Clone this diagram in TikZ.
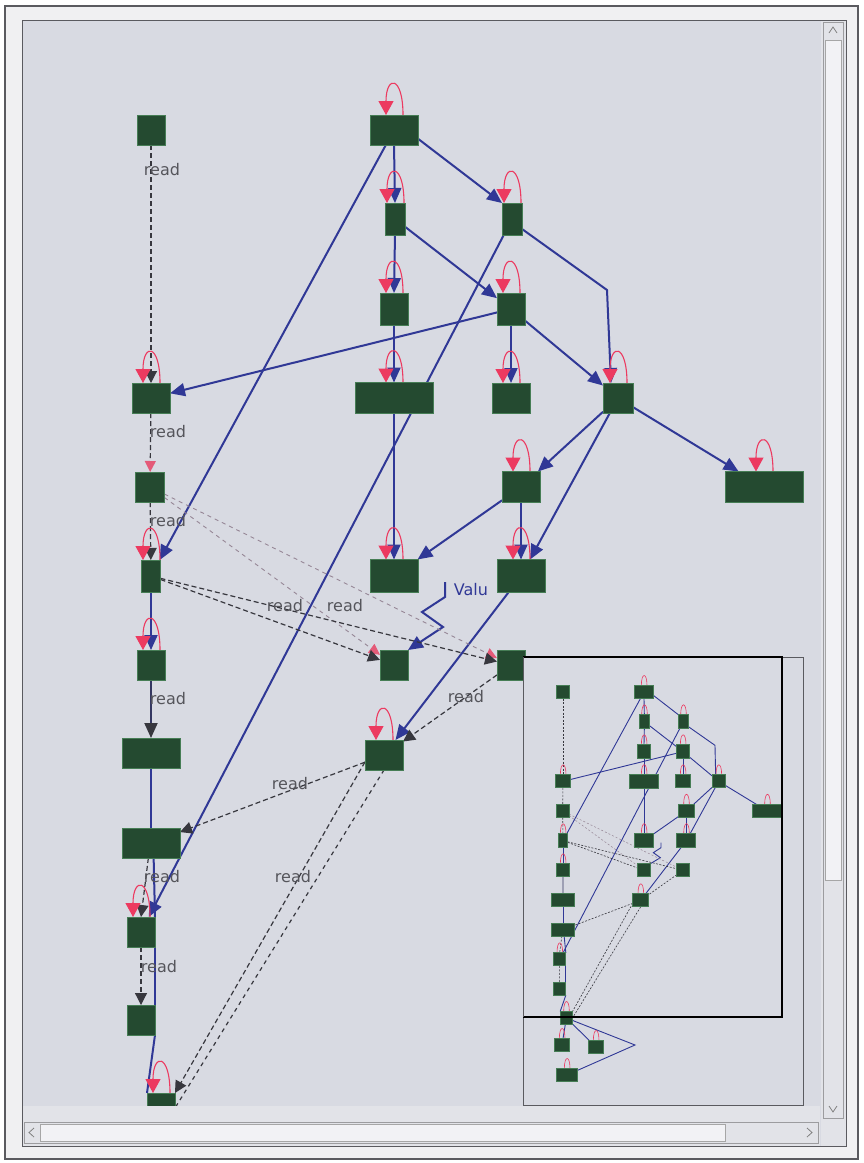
\documentclass[tikz,border=0pt]{standalone}
\usepackage{fontspec}
\newfontfamily\lblfont{DejaVu Sans}
\usetikzlibrary{arrows.meta}
\definecolor{bgc}{RGB}{216,218,226}
\definecolor{winc}{RGB}{240,240,242}
\definecolor{ndfill}{RGB}{36,74,48}
\definecolor{ndedge}{RGB}{70,125,85}
\definecolor{edgeblue}{RGB}{48,56,150}
\definecolor{loopred}{RGB}{236,58,96}
\definecolor{rdgray}{RGB}{55,55,62}
\definecolor{fainted}{RGB}{150,135,150}
\definecolor{pinktip}{RGB}{228,90,120}
\definecolor{trackc}{RGB}{226,227,232}
\definecolor{thumbc}{RGB}{242,242,245}
\definecolor{frameg}{RGB}{90,90,95}

\newcommand\GrNodes[1]{%
\node[#1=28/30] (\pfx a) at (151,130) {};
\node[#1=48/30] (\pfx b) at (394,130) {};
\node[#1=20/32] (\pfx c) at (395,219) {};
\node[#1=28/32] (\pfx d) at (394,309) {};
\node[#1=20/32] (\pfx e) at (512,219) {};
\node[#1=28/32] (\pfx f) at (511,309) {};
\node[#1=38/30] (\pfx g) at (151,398) {};
\node[#1=78/31] (\pfx h) at (394,398) {};
\node[#1=38/30] (\pfx i) at (511,398) {};
\node[#1=30/30] (\pfx j) at (618,398) {};
\node[#1=38/31] (\pfx k) at (521,487) {};
\node[#1=78/31] (\pfx l) at (764,487) {};
\node[#1=48/33] (\pfx m) at (394,576) {};
\node[#1=48/33] (\pfx n) at (521,576) {};
\node[#1=29/30] (\pfx o) at (150,487) {};
\node[#1=19/32] (\pfx p) at (151,576) {};
\node[#1=28/30] (\pfx q) at (151,665) {};
\node[#1=58/30] (\pfx r) at (151,753) {};
\node[#1=58/30] (\pfx s) at (151,843) {};
\node[#1=28/30] (\pfx t) at (394,665) {};
\node[#1=28/30] (\pfx u) at (511,665) {};
\node[#1=38/30] (\pfx v) at (384,755) {};
\node[#1=28/30] (\pfx w) at (141,932) {};
\node[#1=28/30] (\pfx x) at (141,1020) {};
\node[#1=28/30] (\pfx y) at (161,1108) {};
\node[#1=36/30] (\pfx za) at (148,1189) {};
\node[#1=36/30] (\pfx zb) at (250,1195) {};
\node[#1=54/30] (\pfx zc) at (163,1279) {};
}
\newcommand\GrCoords{%
\coordinate (\pfx ej) at (607,290);
\coordinate (\pfx vz) at (445,582);
\coordinate (\pfx apex) at (367,1189);
}
\newcommand\GrLoop[1]{\draw[lp] (\pfx #1.north) ++(9,0) .. controls +(0,-40) and +(0,-40) .. ++(-17,0);}
\newcommand\GrEdges{%
\draw[bl] (\pfx b.south) -- (\pfx c.north);
\draw[bl] (\pfx c.south) -- (\pfx d.north);
\draw[bl] (\pfx d.south) -- (\pfx h.north);
\draw[bl] (\pfx b.-20) -- (\pfx e.north west);
\draw[bl] (\pfx b) -- (\pfx p);
\draw[bl] (\pfx c) -- (\pfx f);
\draw[bl] (\pfx e.-45) -- (\pfx ej) -- (\pfx j.115);
\draw[bl] (\pfx e) -- (\pfx w);
\draw[bl] (\pfx f) -- (\pfx g);
\draw[bl] (\pfx f.south) -- (\pfx i.north);
\draw[bl] (\pfx f) -- (\pfx j);
\draw[bl] (\pfx h.south) -- (\pfx m.north);
\draw[bl] (\pfx j) -- (\pfx k);
\draw[bl] (\pfx j) -- (\pfx n);
\draw[bl] (\pfx j) -- (\pfx l);
\draw[bl] (\pfx k) -- (\pfx m);
\draw[bl] (\pfx k.south) -- (\pfx n.north);
\draw[bl] (\pfx n) -- (\pfx v);
\draw[bl] (\pfx p.south) -- (\pfx q.north);
\draw[bln] (\pfx r.south) -- (\pfx s.north);
\draw[bln] (\pfx s.-80) -- (\pfx w.north east);
\draw[bln] (\pfx w.south east) -- (\pfx x.north east);
\draw[bln] (\pfx x.south east) -- (\pfx y.north west);
\draw[bl] (\pfx vz) -- ++(0,15) -- ++(-23,15) -- ++(21,15) -- (\pfx t.north east);
\draw[bln] (\pfx y) -- (\pfx apex) -- (\pfx zc);
\draw[bln] (\pfx y) -- (\pfx zb);
\draw[bln] (\pfx y) -- (\pfx za);
\draw[rd] (\pfx a) -- (\pfx g);
\draw[rdp] (\pfx g) -- (\pfx o);
\draw[rd] (\pfx o) -- (\pfx p);
\draw[rdf] (\pfx o) -- (\pfx t);
\draw[rdf] (\pfx o) -- (\pfx u);
\draw[rd] (\pfx p) -- (\pfx t);
\draw[rd] (\pfx p) -- (\pfx u);
\draw[rdsolid] (\pfx q) -- (\pfx r);
\draw[rd] (\pfx s.-100) -- (\pfx w.north);
\draw[rd] (\pfx w) -- (\pfx x);
\draw[rd] (\pfx v) -- (\pfx s);
\draw[rd] (\pfx u) -- (\pfx v);
\draw[rd] (\pfx v.200) -- (\pfx y.north east);
\draw[rdn] (\pfx v.south) -- (\pfx y.east);
}
\newcommand\GrLoops{%
\GrLoop{b}\GrLoop{c}\GrLoop{d}\GrLoop{e}\GrLoop{f}\GrLoop{g}\GrLoop{h}%
\GrLoop{i}\GrLoop{j}\GrLoop{k}\GrLoop{l}\GrLoop{m}\GrLoop{n}\GrLoop{p}%
\GrLoop{q}\GrLoop{v}\GrLoop{w}\GrLoop{y}\GrLoop{za}\GrLoop{zb}\GrLoop{zc}%
}
\newcommand\GrAll{\GrNodes{ghost}\GrCoords\GrEdges\GrLoops\GrNodes{nd}}

\begin{document}
\begin{tikzpicture}[x=1pt,y=-1pt,
  ghost/.style args={#1/#2}{rectangle, inner sep=0pt, outer sep=0pt,
     minimum width={(#1)*\ndsc*1pt+\ndadd*1pt}, minimum height={(#2)*\ndsc*1pt+\ndadd*1pt}},
  nd/.style args={#1/#2}{ghost=#1/#2, draw=ndedge, fill=ndfill, line width=0.8pt},
  bl/.style={draw=edgeblue, line width=2pt, -{Triangle[width=13pt,length=15pt]}},
  bln/.style={draw=edgeblue, line width=2pt},
  rd/.style={draw=rdgray, line width=1.2pt, dash pattern=on 5pt off 3pt, -{Triangle[width=12pt,length=12pt]}},
  rdn/.style={draw=rdgray, line width=1.2pt, dash pattern=on 4pt off 4pt},
  rdp/.style={draw=rdgray, line width=1.2pt, dash pattern=on 5pt off 3pt, -{Triangle[width=11pt,length=11pt,color=pinktip]}},
  rdf/.style={draw=fainted, line width=0.9pt, dash pattern=on 4pt off 4pt, -{Triangle[width=11pt,length=11pt,color=pinktip]}},
  rdsolid/.style={draw=rdgray!60!edgeblue, line width=2pt, -{Triangle[width=13pt,length=15pt,color=rdgray]}},
  lp/.style={draw=loopred, line width=1.1pt, -{Triangle[width=15pt,length=14pt]}},
  lbl/.style={font={\lblfont\fontsize{16pt}{16pt}\selectfont}, text=rdgray!85, inner sep=0pt},
  vlbl/.style={font={\lblfont\fontsize{16pt}{16pt}\selectfont}, text=edgeblue, inner sep=0pt}]
\useasboundingbox (0,0) rectangle (863,1163);
\fill[white] (0,0) rectangle (863,1163);
\fill[winc] (5,6) rectangle (858,1159);
\draw[frameg, line width=1.2pt] (5,6) rectangle (858,1159);
\fill[bgc] (22,20) rectangle (846,1146);

% main graph
\begin{scope}
\clip (22,20) rectangle (820,1105);
\def\pfx{}\def\ndsc{1}\def\ndadd{0}
\GrAll
\node[lbl] (l1) at (162,170) {read};
\node[lbl] (l2) at (168,432) {read};
\node[lbl] (l3) at (168,521) {read};
\node[lbl] (l4) at (285,606) {read};
\node[lbl] (l5) at (345,606) {read};
\node[lbl] (l6) at (168,699) {read};
\node[lbl] (l7) at (290,784) {read};
\node[lbl] (l8) at (466,697) {read};
\node[lbl] (l9) at (162,877) {read};
\node[lbl] (l10) at (293,877) {read};
\node[lbl] (l11) at (159,967) {read};
\node[vlbl] (lv) at (471,590) {Valu};
\end{scope}

% lower band and scrollbars
\fill[trackc] (22,1106) rectangle (820,1146);
\fill[trackc] (821,20) rectangle (846,1146);
\draw[frameg!60, line width=0.6pt] (24,1122) rectangle (818,1143);
\fill[thumbc] (40,1124) rectangle (725,1141);
\draw[gray!70, line width=0.5pt] (40,1124) rectangle (725,1141);
\draw[gray, line width=0.8pt] (34,1128) -- (29,1132.5) -- (34,1137);
\draw[gray, line width=0.8pt] (807,1128) -- (812,1132.5) -- (807,1137);
\draw[frameg!60, line width=0.6pt] (823,22) rectangle (843,1118);
\fill[thumbc] (825,40) rectangle (841,880);
\draw[gray!70, line width=0.5pt] (825,40) rectangle (841,880);
\draw[gray, line width=0.8pt] (829,33) -- (833,27) -- (837,33);
\draw[gray, line width=0.8pt] (829,1106) -- (833,1112) -- (837,1106);
\draw[frameg, line width=1pt] (22,20) rectangle (846,1146);

% overview
\fill[bgc] (523,657) rectangle (803,1105);
\begin{scope}
\clip (523,657) rectangle (803,1105);
\begin{scope}[shift={(512.667,648.667)}, scale=1/3]
\tikzset{
  bl/.style={draw=edgeblue, line width=0.9pt},
  bln/.style={draw=edgeblue, line width=0.9pt},
  rd/.style={draw=rdgray, line width=0.6pt, dash pattern=on 2pt off 1.5pt},
  rdn/.style={draw=rdgray, line width=0.6pt, dash pattern=on 2pt off 1.5pt},
  rdp/.style={draw=rdgray, line width=0.6pt, dash pattern=on 2pt off 1.5pt},
  rdf/.style={draw=fainted, line width=0.5pt, dash pattern=on 2pt off 2pt},
  rdsolid/.style={draw=rdgray!60!edgeblue, line width=0.9pt},
  lp/.style={draw=loopred, line width=0.6pt}}
\def\pfx{m}\def\ndsc{0.3333}\def\ndadd{3}
\GrAll
\end{scope}
\end{scope}
\draw[frameg, line width=0.8pt] (523,657) rectangle (803,1105);
\draw[black, line width=1.8pt] (523,657) -- (782,657) -- (782,1017) -- (523,1017);
\draw[frameg, line width=1pt] (523,657) -- (523,1017);
\end{tikzpicture}
\end{document}
